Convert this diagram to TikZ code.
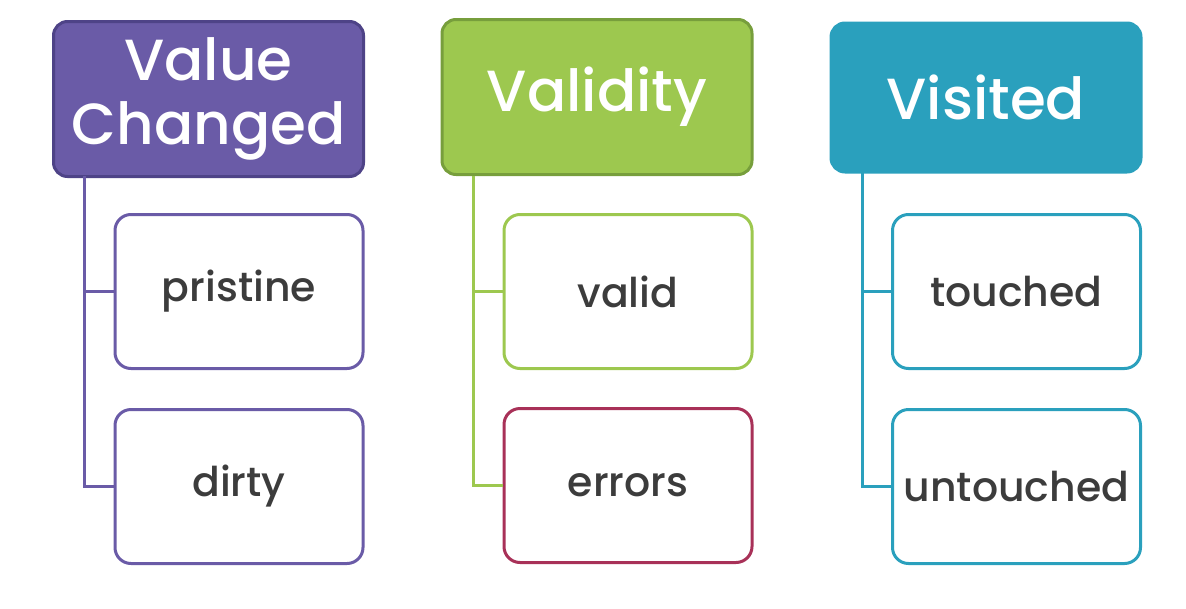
\documentclass[tikz,border=0pt]{standalone}
\usepackage{fontspec}
\setmainfont{Poppins}[UprightFont=* Medium]
\usetikzlibrary{positioning}
\definecolor{vcfill}{HTML}{6A5BA7}
\definecolor{vcedge}{HTML}{4E4387}
\definecolor{vdfill}{HTML}{9DC84F}
\definecolor{vdedge}{HTML}{779E3C}
\definecolor{vsfill}{HTML}{2AA0BD}
\definecolor{errcol}{HTML}{A83158}
\definecolor{txt}{HTML}{3C3C3C}
\tikzset{
  header/.style={rectangle, rounded corners=14pt, line width=3pt, inner sep=0pt,
    minimum width=310pt, minimum height=155pt, text=white, align=center,
    font=\fontsize{58}{64}\selectfont},
  leaf/.style={rectangle, rounded corners=16pt, line width=3pt, inner sep=0pt, fill=white,
    minimum width=248pt, minimum height=154pt, text=txt,
    font=\fontsize{41}{44}\selectfont},
  trunk/.style={line width=3pt},
}
\begin{document}
\begin{tikzpicture}[x=1pt,y=-1pt]
\useasboundingbox (0,0) rectangle (1186,608);

% Value Changed column
\node[header, fill=vcfill, draw=vcedge] (vc) at (208.5,99) {Value\\Changed};
\node[leaf, draw=vcfill] (pristine) at (239,291.5) {pristine};
\node[leaf, draw=vcfill] (dirty) at (239,486.5) {dirty};
\coordinate (vct) at (84,176);
\draw[trunk, draw=vcfill] (vct) |- (pristine.west);
\draw[trunk, draw=vcfill] (vct) |- (dirty.west);

% Validity column
\node[header, fill=vdfill, draw=vdedge] (vd) at (597,97) {Validity};
\node[leaf, draw=vdfill] (valid) at (628,291.5) {valid};
\node[leaf, draw=errcol] (errors) at (628,485.5) {errors};
\coordinate (vdt) at (473,176);
\draw[trunk, draw=vdfill] (vdt) |- (valid.west);
\draw[trunk, draw=vdfill] (vdt) |- (errors.west);

% Visited column
\node[header, fill=vsfill, draw=vsfill, minimum height=149pt] (vs) at (986,97.5) {Visited};
\node[leaf, draw=vsfill] (touched) at (1016.5,291.5) {touched};
\node[leaf, draw=vsfill] (untouched) at (1016.5,486.5) {untouched};
\coordinate (vst) at (862,173);
\draw[trunk, draw=vsfill] (vst) |- (touched.west);
\draw[trunk, draw=vsfill] (vst) |- (untouched.west);
\end{tikzpicture}
\end{document}
